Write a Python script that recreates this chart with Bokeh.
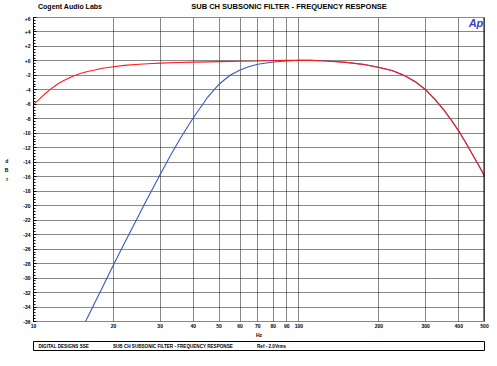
from bokeh.plotting import figure
from bokeh.models import FixedTicker, Label, Span, Range1d
from bokeh.layouts import column
from bokeh.core.properties import value
from bokeh.embed import file_html
from bokeh.resources import INLINE

# ---- data ----
x_ticks = [10, 20, 30, 40, 50, 60, 70, 80, 90, 100, 200, 300, 400, 500]
x_labels = ["10", "20", "30", "40", "50", "60", "70", "80", "90", "100", "200", "300", "400", "500"]
y_ticks = [6, 4, 2, 0, -2, -4, -6, -8, -10, -12, -14, -16, -18, -20, -22, -24, -26, -28, -30, -32, -34, -36]
y_labels = ["+6", "+4", "+2", "+0", "-2", "-4", "-6", "-8", "-10", "-12", "-14", "-16", "-18", "-20",
            "-22", "-24", "-26", "-28", "-30", "-32", "-34", "-36"]

red_hz = [10, 10.5, 11, 11.5, 12, 12.5, 13, 14, 15, 16, 17, 18, 20, 22, 25, 28, 30, 35, 40, 45, 50,
          60, 70, 80, 90, 100, 110, 125, 150, 175, 200, 225, 250, 275, 300, 325, 350, 375, 400,
          425, 450, 475, 500]
red_db = [-6.0, -5.3, -4.6, -4.0, -3.5, -3.05, -2.7, -2.15, -1.75, -1.45, -1.25, -1.05, -0.8, -0.62,
          -0.45, -0.35, -0.3, -0.22, -0.17, -0.13, -0.1, -0.05, 0.0, 0.05, 0.08, 0.1, 0.08, 0.0,
          -0.2, -0.5, -0.9, -1.35, -2.05, -2.9, -4.0, -5.3, -6.7, -8.2, -9.7, -11.3, -12.9, -14.4, -15.9]

blue_hz = [15.6, 16, 17, 18, 19, 20, 22, 24, 26, 28, 30, 33, 36, 40, 45, 50, 55, 60, 65, 70, 80, 90,
           100, 110, 125, 150, 175, 200, 225, 250, 275, 300, 325, 350, 375, 400, 425, 450, 475, 500]
blue_db = [-36.2, -35.4, -33.45, -31.6, -29.85, -28.2, -25.2, -22.5, -20.0, -17.75, -15.7, -12.9, -10.5,
           -7.85, -5.15, -3.22, -1.98, -1.26, -0.77, -0.45, -0.15, 0.0, 0.1, 0.1, 0.02, -0.18, -0.47,
           -0.87, -1.33, -2.03, -2.88, -3.98, -5.28, -6.68, -8.18, -9.68, -11.28, -12.88, -14.38, -15.88]

y_minor = [v / 10 for v in range(-360, 61, 4)]

FONT = "Liberation Sans"
W = 497

# ---- top strip with titles ----
top = figure(width=W, height=16, x_range=Range1d(0, W), y_range=Range1d(16, 0),
             x_axis_type=None, y_axis_type=None, output_backend="svg", toolbar_location=None,
             min_border=0, title=None)
top.outline_line_color = None
top.grid.visible = False
top.text(x=[5], y=[5.5], text=["Cogent Audio Labs"], text_font=value(FONT),
         text_font_size="7px", text_font_style="bold", text_color="black",
         text_align="left", text_baseline="middle")
top.text(x=[284], y=[5.5], text=["SUB CH SUBSONIC FILTER  -  FREQUENCY RESPONSE"], text_font=value(FONT),
         text_font_size="7.5px", text_font_style="bold", text_color="black",
         text_align="center", text_baseline="middle")

# ---- main plot ----
p = figure(width=W, height=324, x_axis_type="log",
           x_range=Range1d(10, 500), y_range=Range1d(-36, 6),
           output_backend="svg", toolbar_location=None, title=None,
           min_border_left=33, min_border_right=13, min_border_top=1, min_border_bottom=17)

p.background_fill_color = "white"
p.border_fill_color = "white"
p.outline_line_color = "#111111"
p.outline_line_dash = "1 1"

p.xaxis.ticker = FixedTicker(ticks=x_ticks, minor_ticks=[])
p.xaxis.major_label_overrides = {t: l for t, l in zip(x_ticks, x_labels)}
p.xaxis.axis_line_color = None
p.xaxis.major_tick_line_color = None
p.xaxis.minor_tick_line_color = None
p.xaxis.major_tick_out = 0
p.xaxis.major_tick_in = 0
p.xaxis.minor_tick_out = 0
p.xaxis.major_label_standoff = 2
p.xaxis.major_label_text_font = FONT
p.xaxis.major_label_text_font_style = "bold"
p.xaxis.major_label_text_font_size = "5px"
p.xaxis.major_label_text_color = "black"
p.xaxis.axis_label = "Hz"
p.xaxis.axis_label_standoff = 1
p.xaxis.axis_label_text_font = FONT
p.xaxis.axis_label_text_font_style = "bold"
p.xaxis.axis_label_text_font_size = "5px"
p.xaxis.axis_label_text_color = "black"

p.yaxis.ticker = FixedTicker(ticks=y_ticks, minor_ticks=y_minor)
p.yaxis.major_label_overrides = {t: l for t, l in zip(y_ticks, y_labels)}
p.yaxis.axis_line_color = "black"
p.yaxis.major_tick_in = 3
p.yaxis.major_tick_out = 0
p.yaxis.minor_tick_in = 2
p.yaxis.minor_tick_out = 0
p.yaxis.major_tick_line_color = "black"
p.yaxis.minor_tick_line_color = "black"
p.yaxis.major_label_standoff = 3
p.yaxis.major_label_text_font = FONT
p.yaxis.major_label_text_font_style = "bold"
p.yaxis.major_label_text_font_size = "5px"
p.yaxis.major_label_text_color = "black"
p.yaxis.axis_label = "d\nB\nr"
p.yaxis.axis_label_orientation = "horizontal"
p.yaxis.axis_label_standoff = 12
p.yaxis.axis_label_text_font = FONT
p.yaxis.axis_label_text_font_style = "bold"
p.yaxis.axis_label_text_font_size = "5px"
p.yaxis.axis_label_text_line_height = 1.5
p.yaxis.axis_label_text_color = "black"

p.xgrid.ticker = FixedTicker(ticks=x_ticks, minor_ticks=[])
p.ygrid.ticker = FixedTicker(ticks=y_ticks, minor_ticks=[])
for g in (p.xgrid, p.ygrid):
    g.grid_line_color = "#111111"
    g.grid_line_dash = "1 1"
    g.grid_line_width = 1
    g.grid_line_alpha = 1.0

p.add_layout(Span(location=500, dimension="height", line_color="black", line_width=2))

p.line(blue_hz, blue_db, line_color="#3a55c8", line_width=1.1)
p.line(red_hz, red_db, line_color="#ff1a1a", line_width=1.1)

p.add_layout(Label(x=495, y=5.3, text="Ap", text_font=FONT, text_font_size="11px",
                   text_font_style="bold italic", text_color="#3344cc",
                   text_align="right", text_baseline="middle"))

# ---- bottom info box ----
bot = figure(width=W, height=26, x_range=Range1d(32, 486), y_range=Range1d(350, 341),
             x_axis_type=None, y_axis_type=None, output_backend="svg", toolbar_location=None,
             min_border_left=32, min_border_right=11, min_border_top=1, min_border_bottom=16,
             title=None)
bot.outline_line_color = "black"
bot.outline_line_width = 1
bot.grid.visible = False
for tx, t in [(37, "DIGITAL DESIGNS SSE"),
              (112, "SUB CH SUBSONIC FILTER  -  FREQUENCY RESPONSE"),
              (257, "Ref - 2.0Vrms")]:
    bot.text(x=[tx], y=[345.5], text=[t], text_font=value(FONT), text_font_size="4.6px",
             text_font_style="bold", text_color="black", text_align="left", text_baseline="middle")

layout = column(top, p, bot, spacing=0)
open("out.html", "w").write(file_html(layout, INLINE))
